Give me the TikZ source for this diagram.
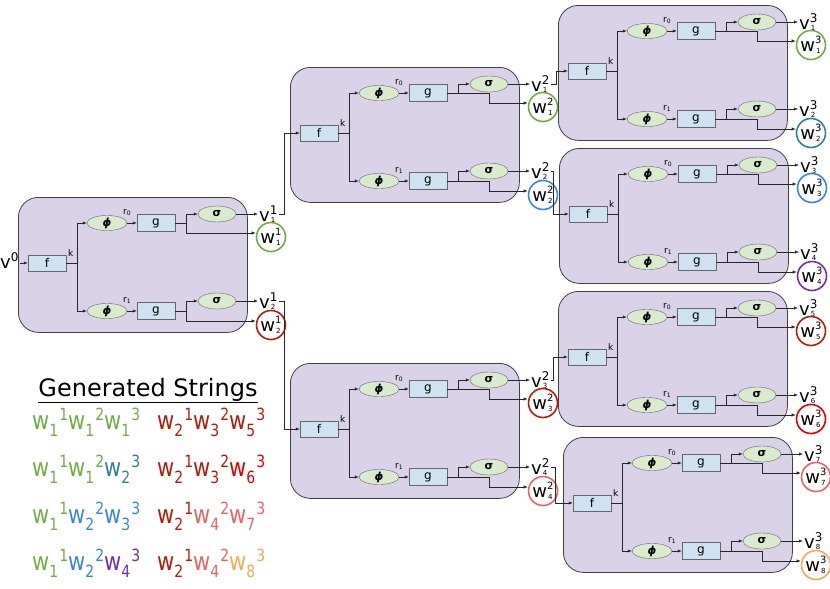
\documentclass[tikz,border=0pt]{standalone}
\usepackage{fontspec}
\setmainfont{DejaVu Sans}
\usetikzlibrary{arrows.meta,calc,positioning,shapes.geometric}

\definecolor{blkfill}{RGB}{217,210,233}
\definecolor{boxfill}{RGB}{207,226,243}
\definecolor{ellfill}{RGB}{217,234,205}
\definecolor{cgreen}{RGB}{112,173,71}
\definecolor{cteal}{RGB}{49,128,150}
\definecolor{cblue}{RGB}{58,134,208}
\definecolor{cpurple}{RGB}{112,48,160}
\definecolor{cdred}{RGB}{178,28,10}
\definecolor{cred}{RGB}{222,0,0}
\definecolor{cpink}{RGB}{230,100,100}
\definecolor{corange}{RGB}{245,168,88}

% letter with stacked super/subscript
\newcommand{\vsym}[3]{#1\rlap{\hspace{1pt}\raisebox{-1.5pt}{\fontsize{7}{7}\selectfont#3}}\raisebox{7pt}{\fontsize{12}{12}\selectfont#2}}
\newcommand{\wsym}[3]{#1\rlap{\hspace{1pt}\raisebox{-1.5pt}{\fontsize{7}{7}\selectfont#3}}\raisebox{8pt}{\fontsize{10}{10}\selectfont#2}}
% one coloured piece of a generated string
\newcommand{\wpart}[3]{{\color{#1}w\raisebox{-6pt}{\fontsize{14}{14}\selectfont#2}\kern1pt\raisebox{7pt}{\fontsize{14}{14}\selectfont#3}}}

\begin{document}
\begin{tikzpicture}[
    x=1pt, y=-1pt,
    block/.style={draw=black!75, fill=blkfill, rounded corners=20pt, line width=0.8pt, minimum width=229pt, minimum height=135pt, anchor=north west, inner sep=0pt},
    fbox/.style={draw=black!60, fill=boxfill, minimum width=38pt, minimum height=16pt, inner sep=0pt, font=\fontsize{12}{12}\selectfont},
    gbox/.style={fbox, minimum height=17pt},
    phinode/.style={ellipse, draw=black!60, fill=ellfill, minimum width=40pt, minimum height=14pt, inner sep=0pt, font=\fontsize{11}{11}\selectfont},
    signode/.style={phinode, minimum width=38pt, minimum height=16pt},
    outw/.style={circle, line width=1.6pt, minimum size=29pt, inner sep=0pt, font=\fontsize{18}{18}\selectfont},
    vlab/.style={font=\fontsize{18}{18}\selectfont, inner sep=1pt, anchor=base west},
    small/.style={font=\fontsize{9}{9}\selectfont, inner sep=0pt, anchor=base west},
    wire/.style={line width=0.6pt, draw=black!85},
    arr/.style={wire, -{Latex[length=4pt, width=3.2pt]}},
    strng/.style={font=\fontsize{21}{21}\selectfont, inner sep=0pt, anchor=base west},
]
\useasboundingbox (0,0) rectangle (830,589);

% blocks: id / left / top / level / output indices / circle colours
\foreach \b/\bx/\by/\lv/\ia/\ib/\ca/\cb in {1/18/197/1/1/2/cgreen/cdred, 2/290/67/2/1/2/cgreen/cblue, 3/290/363/2/3/4/cdred/cpink, 4/558/5/3/1/2/cgreen/cteal, 5/559/148/3/3/4/cblue/cpurple, 6/558/291/3/5/6/cdred/cred, 7/563/437/3/7/8/cpink/corange} {
  \node[block] (blk\b) at (\bx,\by) {};
  \node[fbox] (f\b) at (\bx+29,\by+66) {f};
  \coordinate (k\b) at (\bx+59,\by+66);
  \node[small] (kl\b) at (\bx+50,\by+59) {k};
  \node[phinode] (pa\b) at (\bx+89,\by+26) {\textbf{\textit{ϕ}}};
  \node[phinode] (pb\b) at (\bx+89,\by+114) {\textbf{\textit{ϕ}}};
  \node[small] (ra\b) at (\bx+105,\by+17) {r\textsubscript{0}};
  \node[small] (rb\b) at (\bx+105,\by+105) {r\textsubscript{1}};
  \node[gbox] (ga\b) at (\bx+138,\by+26) {g};
  \node[gbox] (gb\b) at (\bx+138,\by+114) {g};
  \coordinate (ja\b) at (\bx+168,\by+26);
  \coordinate (jb\b) at (\bx+168,\by+114);
  \node[signode] (sa\b) at (\bx+199,\by+17) {\textbf{σ}};
  \node[signode] (sb\b) at (\bx+199,\by+104) {\textbf{σ}};
  \node[vlab] (va\b) at (\bx+240,\by+24) {\vsym{v}{\lv}{\ia}};
  \node[vlab] (vb\b) at (\bx+240,\by+111) {\vsym{v}{\lv}{\ib}};
  \node[outw, draw=\ca] (wa\b) at (\bx+253,\by+40) {\wsym{w}{\lv}{\ia}};
  \node[outw, draw=\cb] (wb\b) at (\bx+253,\by+128) {\wsym{w}{\lv}{\ib}};
  % wiring inside the block
  \draw[wire] (f\b) -- (k\b);
  \draw[arr] (k\b) |- (pa\b);
  \draw[arr] (k\b) |- (pb\b);
  \draw[arr] (pa\b) -- (ga\b);
  \draw[arr] (pb\b) -- (gb\b);
  \draw[wire] (ga\b) -- (ja\b);
  \draw[wire] (gb\b) -- (jb\b);
  \draw[arr] (ja\b) |- (sa\b);
  \draw[arr] (jb\b) |- (sb\b);
  \draw[arr] (sa\b) -- (sa\b -| va\b.west);
  \draw[arr] (sb\b) -- (sb\b -| vb\b.west);
  \ifnum\b=1
    \draw[arr] (ja\b) |- ([yshift=4pt]wa\b.west);
    \draw[arr] (jb\b) |- ([yshift=4pt]wb\b.west);
  \else
    \draw[arr] (ja\b) -- (sa\b |- ja\b) |- ([yshift=4pt]wa\b.west);
    \draw[arr] (jb\b) -- (sb\b |- jb\b) |- ([yshift=4pt]wb\b.west);
  \fi
}

% input
\node[vlab] (v0) at (-1,268) {\vsym{v}{0}{}};
\draw[arr] (v0.east |- f1) -- (f1);

% links between levels
\draw[arr] (va1.east |- sa1) -- ++(6,0) |- (f2);
\draw[arr] (vb1.east |- sb1) -- ++(6,0) |- (f3);
\draw[arr] (va2.east |- sa2) -- ++(6,0) |- (f4);
\draw[arr] (vb2.east |- sb2) -- ++(3,0) |- (f5);
\draw[arr] (va3.east |- sa3) -- ++(3,0) |- (f6);
\draw[arr] (vb3.east |- sb3) -- ++(5,0) |- (f7);

% generated strings
\node[font=\fontsize{24}{24}\selectfont, inner sep=0pt, anchor=base] (title) at (148,396) {\underline{Generated Strings}};
\node[strng] (s1) at (32,429) {\scalebox{1}[1.2]{\wpart{cgreen}{1}{1}\wpart{cgreen}{1}{2}\wpart{cgreen}{1}{3}}};
\node[strng] (s2) at (32,476) {\scalebox{1}[1.2]{\wpart{cgreen}{1}{1}\wpart{cgreen}{1}{2}\wpart{cteal}{2}{3}}};
\node[strng] (s3) at (32,523) {\scalebox{1}[1.2]{\wpart{cgreen}{1}{1}\wpart{cblue}{2}{2}\wpart{cblue}{3}{3}}};
\node[strng] (s4) at (32,570) {\scalebox{1}[1.2]{\wpart{cgreen}{1}{1}\wpart{cblue}{2}{2}\wpart{cpurple}{4}{3}}};
\node[strng] (s5) at (157,429) {\scalebox{1}[1.2]{\wpart{cdred}{2}{1}\wpart{cdred}{3}{2}\wpart{cdred}{5}{3}}};
\node[strng] (s6) at (157,476) {\scalebox{1}[1.2]{\wpart{cdred}{2}{1}\wpart{cdred}{3}{2}\wpart{cred}{6}{3}}};
\node[strng] (s7) at (157,523) {\scalebox{1}[1.2]{\wpart{cdred}{2}{1}\wpart{cpink}{4}{2}\wpart{cpink}{7}{3}}};
\node[strng] (s8) at (157,570) {\scalebox{1}[1.2]{\wpart{cdred}{2}{1}\wpart{cpink}{4}{2}\wpart{corange}{8}{3}}};
\end{tikzpicture}
\end{document}
